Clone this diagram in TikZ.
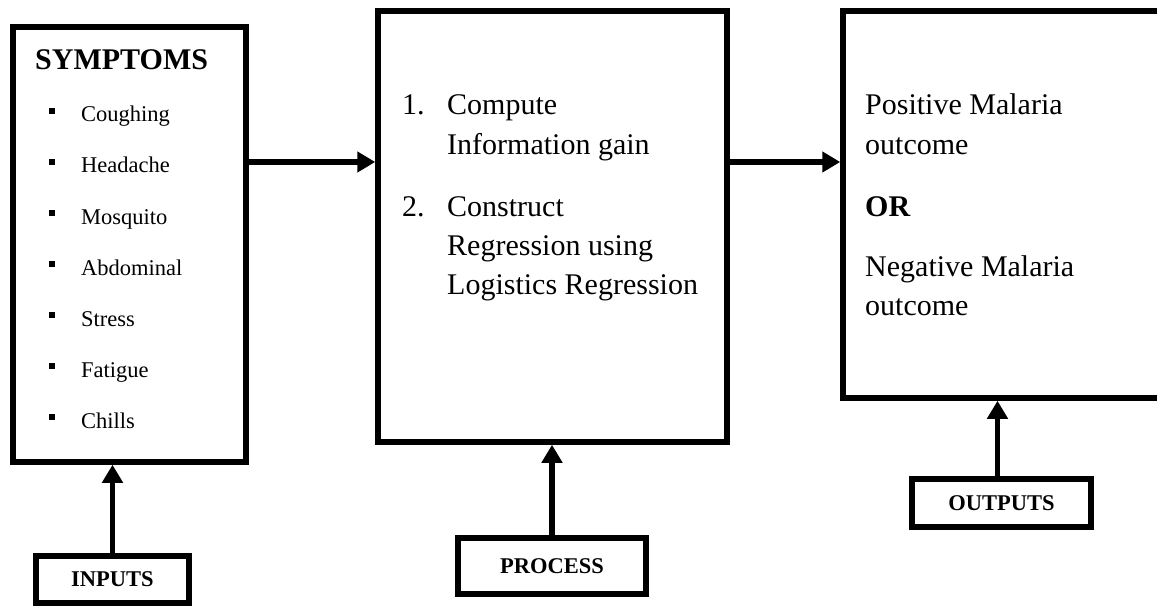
\documentclass[tikz,border=0pt]{standalone}
\usepackage{fontspec}
\setmainfont{Liberation Serif}
\usepackage{tikz}
\usetikzlibrary{arrows.meta, positioning, calc}

\begin{document}
\begin{tikzpicture}[x=1pt, y=-1pt,
    frame/.style={draw, line width=5.5pt, inner sep=0pt},
    tag/.style={draw, line width=5.5pt, inner sep=0pt, font=\bfseries\fontsize{22.5}{27}\selectfont},
    head/.style={anchor=base west, inner sep=0pt, font=\bfseries\fontsize{30}{36}\selectfont},
    big/.style={anchor=base west, inner sep=0pt, font=\fontsize{30}{36}\selectfont},
    item/.style={anchor=base west, inner sep=0pt, font=\fontsize{22.5}{27}\selectfont},
    dot/.style={fill, minimum size=6pt, inner sep=0pt},
    feed/.style={-{Triangle[length=18pt, width=20pt]}, line width=5.5pt}]
    \def\rs{51}
    \path[use as bounding box] (0,0) rectangle (1157,607);
    \clip (0,0) rectangle (1157,607);
    \node[frame, minimum width=233pt, minimum height=435pt] (symptoms) at (129.5,244.5) {};
    \node[frame, minimum width=349pt, minimum height=431pt] (process) at (552.5,226.5) {};
    \node[frame, minimum width=337pt, minimum height=387pt] (outcome) at (1011.5,204.5) {};
    \node[tag, minimum width=153pt, minimum height=47pt] (inputs) at (112.5,579.5) {INPUTS};
    \node[tag, minimum width=188pt, minimum height=56pt] (processtag) at (552,566) {PROCESS};
    \node[tag, minimum width=179pt, minimum height=48pt] (outputs) at (1001.5,503) {OUTPUTS};
    \node[head] (title) at (35,70) {SYMPTOMS};
    \node[dot] (d1) at (52,{111+0*\rs}) {};
    \node[dot] (d2) at (52,{111+1*\rs}) {};
    \node[dot] (d3) at (52,{111+2*\rs}) {};
    \node[dot] (d4) at (52,{111+3*\rs}) {};
    \node[dot] (d5) at (52,{111+4*\rs}) {};
    \node[dot] (d6) at (52,{111+5*\rs}) {};
    \node[dot] (d7) at (52,{111+6*\rs}) {};
    \node[item] (s1) at (81,{122+0*\rs}) {Coughing};
    \node[item] (s2) at (81,{122+1*\rs}) {Headache};
    \node[item] (s3) at (81,{122+2*\rs}) {Mosquito};
    \node[item] (s4) at (81,{122+3*\rs}) {Abdominal};
    \node[item] (s5) at (81,{122+4*\rs}) {Stress};
    \node[item] (s6) at (81,{122+5*\rs}) {Fatigue};
    \node[item] (s7) at (81,{122+6*\rs}) {Chills};
    \node[big] (n1) at (402,115) {1.};
    \node[big] (p1) at (447,115) {Compute};
    \node[big] (p2) at (447,154) {Information gain};
    \node[big] (n2) at (402,216) {2.};
    \node[big] (p3) at (447,216) {Construct};
    \node[big] (p4) at (447,255) {Regression using};
    \node[big] (p5) at (447,294) {Logistics Regression};
    \node[big] (o1) at (865,115) {Positive Malaria};
    \node[big] (o2) at (865,155) {outcome};
    \node[head] (or) at (865,216) {OR};
    \node[big] (o3) at (865,276) {Negative Malaria};
    \node[big] (o4) at (865,315) {outcome};
    \coordinate (level) at (300,162);
    \draw[feed] (level -| symptoms.east) -- (level -| process.west);
    \draw[feed] (level -| process.east) -- (level -| outcome.west);
    \draw[feed] (inputs.north) -- (inputs.north |- symptoms.south);
    \draw[feed] (processtag.north) -- (processtag.north |- process.south);
    \draw[feed] ([xshift=-4pt]outputs.north) -- ([xshift=-4pt]outputs.north |- outcome.south);
\end{tikzpicture}
\end{document}
